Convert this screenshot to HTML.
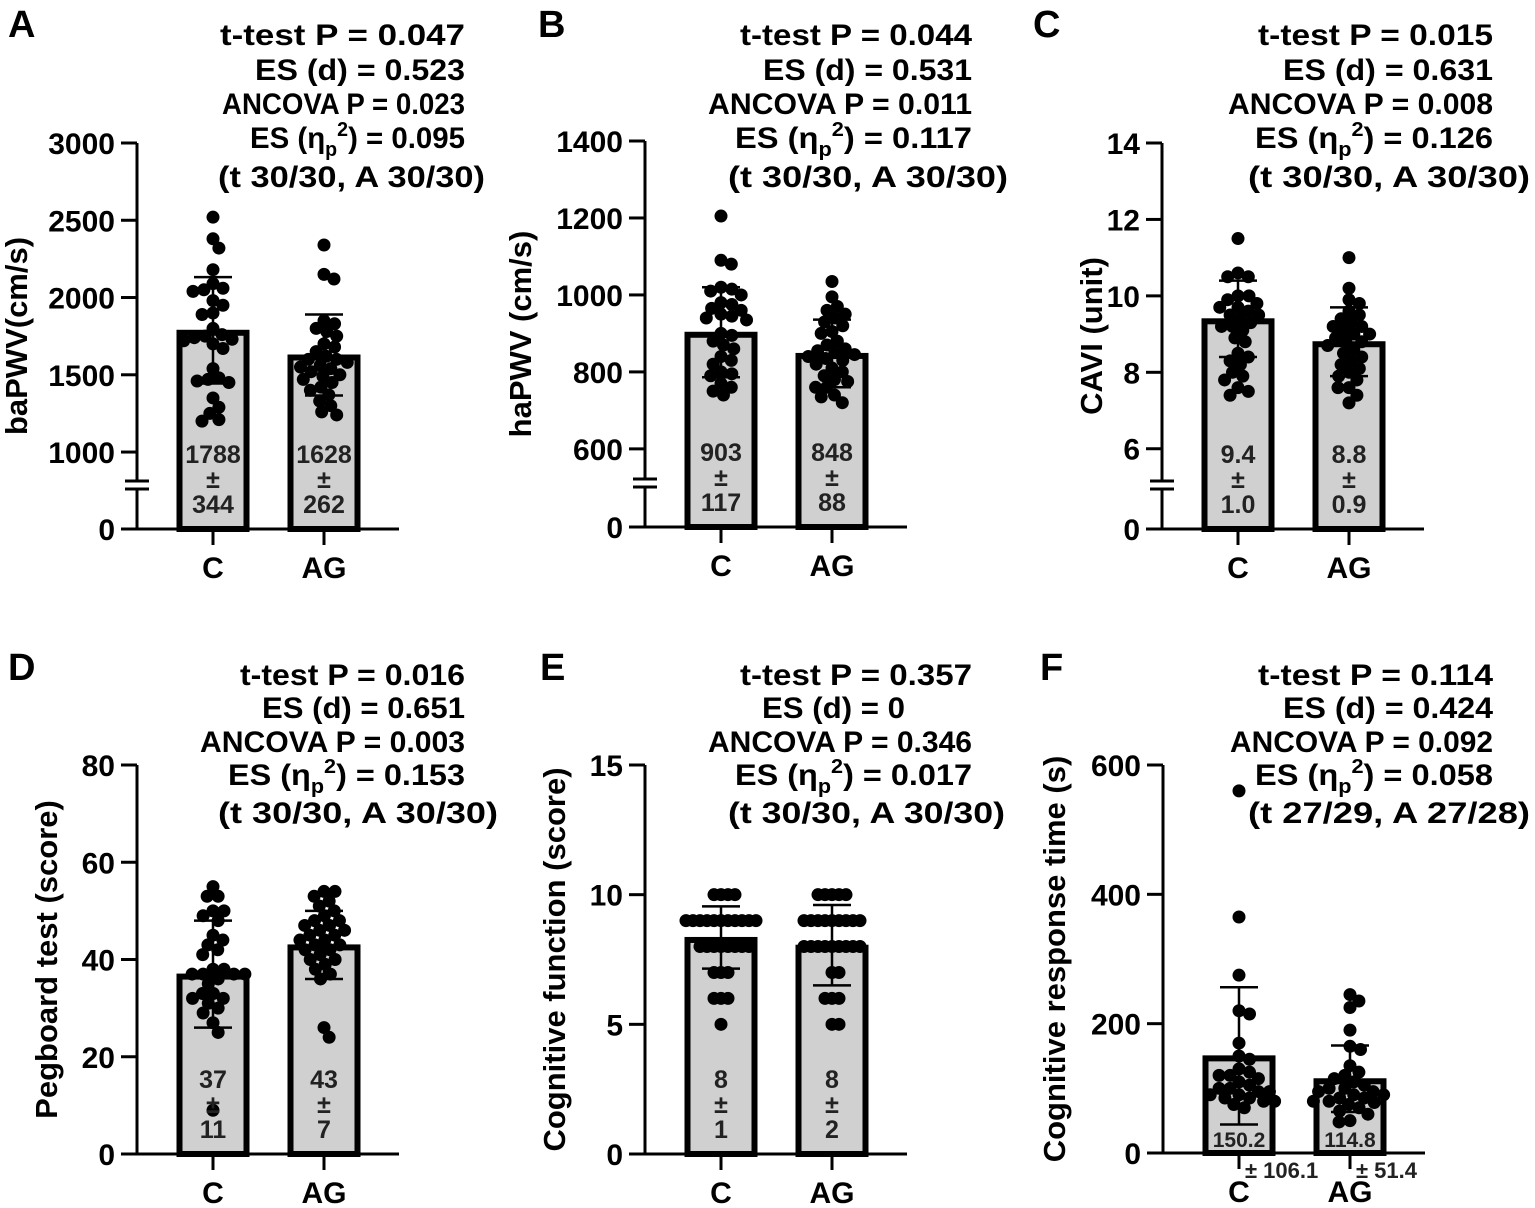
<!DOCTYPE html>
<html><head><meta charset="utf-8"><style>
body{margin:0;background:#fff}
svg{display:block}
text{font-family:"Liberation Sans",Arial,sans-serif;font-weight:bold;fill:#000}
</style></head><body>
<svg id="fig" width="1535" height="1208" viewBox="0 0 1535 1208"></svg>
<script>
// ---------- DATA ----------
const categories = ["C", "AG"];
const aC = [2520,2380,2320,2180,2090,2060,2050,2040,1980,1950,1900,1890,1800,1760,1750,1740,1730,1720,1700,1670,1540,1480,1470,1460,1450,1350,1290,1250,1200,1210];
const aAG = [2340,2150,2120,1850,1830,1800,1780,1750,1700,1680,1650,1620,1600,1600,1580,1560,1550,1540,1520,1500,1490,1470,1450,1420,1400,1370,1330,1300,1260,1240];
const bC = [1205,1090,1080,1020,1015,1010,1000,980,975,965,960,950,945,940,935,900,895,880,870,860,840,830,820,800,795,790,770,760,750,740];
const bAG = [1035,995,970,960,950,940,930,920,905,900,880,870,860,855,850,845,840,835,830,820,810,800,790,780,775,760,760,740,735,720];
const cC = [11.5,10.6,10.5,10.5,10.0,10.0,9.9,9.8,9.7,9.7,9.6,9.5,9.5,9.4,9.3,9.2,9.2,9.1,8.9,8.8,8.5,8.4,8.3,8.2,8.0,7.9,7.8,7.6,7.4,7.5];
const cAG = [11.0,10.2,9.9,9.8,9.6,9.5,9.4,9.3,9.2,9.2,9.1,9.0,9.0,8.9,8.8,8.8,8.7,8.6,8.5,8.4,8.3,8.2,8.1,8.0,7.9,7.8,7.6,7.4,7.2,7.6];
const dC = [55,53,53,50,50,49,48,45,44,43,42,41,38,38,37,37,37,37,36,35,33,33,32,32,31,30,29,27,25,9];
const dAG = [54,54,53,52,51,50,49,48,48,47,47,46,46,45,45,44,44,43,43,42,42,41,40,40,39,38,37,36,26,24];
const eC = [10,10,10,10,9,9,9,9,9,9,9,9,9,9,9,8,8,8,8,8,8,8,8,7,7,7,6,6,6,5];
const eAG = [10,10,10,10,10,9,9,9,9,9,9,9,9,9,8,8,8,8,8,8,8,8,8,7,7,6,6,6,5,5];
const fC = [560,365,275,220,215,170,150,145,130,125,120,120,115,110,105,100,100,95,95,90,90,85,85,80,80,75,70];
const fAG = [245,235,225,190,165,160,135,125,120,115,110,105,100,100,95,95,90,90,85,85,80,80,78,75,70,65,60,50,48];
const means = {A:[1788,1628],B:[903,848],C:[9.4,8.8],D:[37,43],E:[8.35,8.05],F:[150.2,114.8]};
const sds = {A:[344,262],B:[117,88],C:[1.0,0.9],D:[11,7],E:[1.2,1.55],F:[106.1,51.4]};
const meanLabels = {A:["1788","1628"],B:["903","848"],C:["9.4","8.8"],D:["37","43"],E:["8","8"],F:["150.2","114.8"]};
const sdLabels = {A:["344","262"],B:["117","88"],C:["1.0","0.9"],D:["11","7"],E:["1","2"],F:["106.1","51.4"]};
const yTicks = {A:[0,1000,1500,2000,2500,3000],B:[0,600,800,1000,1200,1400],C:[0,6,8,10,12,14],D:[0,20,40,60,80],E:[0,5,10,15],F:[0,200,400,600]};
const statLines = {
 A:["t-test P = 0.047","ES (d) = 0.523","ANCOVA P = 0.023","0.095","(t 30/30, A 30/30)"],
 B:["t-test P = 0.044","ES (d) = 0.531","ANCOVA P = 0.011","0.117","(t 30/30, A 30/30)"],
 C:["t-test P = 0.015","ES (d) = 0.631","ANCOVA P = 0.008","0.126","(t 30/30, A 30/30)"],
 D:["t-test P = 0.016","ES (d) = 0.651","ANCOVA P = 0.003","0.153","(t 30/30, A 30/30)"],
 E:["t-test P = 0.357","ES (d) = 0","ANCOVA P = 0.346","0.017","(t 30/30, A 30/30)"],
 F:["t-test P = 0.114","ES (d) = 0.424","ANCOVA P = 0.092","0.058","(t 27/29, A 27/28)"]};
const yTitles = {A:"baPWV(cm/s)",B:"haPWV (cm/s)",C:"CAVI (unit)",D:"Pegboard test (score)",E:"Cognitive function (score)",F:"Cognitive response time (s)"};

// ---------- LAYOUT ----------
const panels = [
 {id:"A",ax:137,top:143,base:529,lo:502,hi:3000,brk:true,data:[aC,aAG],lx:8,ly:37,tx:16,
  st:[[220,465],[255,465],[222,465],[250,465],[218,485]],sy:[45,80,114,148,187],pack:11},
 {id:"B",ax:645,top:141,base:527,lo:397,hi:1400,brk:true,data:[bC,bAG],lx:538,ly:37,tx:520,
  st:[[740,972],[763,972],[708,972],[735,972],[728,1008]],sy:[45,80,114,148,187],pack:11},
 {id:"C",ax:1162,top:143,base:529,lo:3.9,hi:14,brk:true,data:[cC,cAG],lx:1033,ly:37,tx:1091,
  st:[[1258,1493],[1283,1493],[1228,1493],[1255,1493],[1248,1530]],sy:[45,80,114,148,187],pack:11},
 {id:"D",ax:137,top:765,base:1154,lo:0,hi:80,brk:false,data:[dC,dAG],lx:8,ly:680,tx:46,
  st:[[240,465],[262,465],[200,465],[228,465],[218,498]],sy:[685,718,752,785,823],pack:11},
 {id:"E",ax:645,top:765,base:1154,lo:0,hi:15,brk:false,data:[eC,eAG],lx:540,ly:680,tx:554,
  st:[[740,972],[762,905],[708,972],[735,972],[728,1005]],sy:[685,718,752,785,823],pack:7},
 {id:"F",ax:1163,top:765,base:1153,lo:0,hi:600,brk:false,data:[fC,fAG],lx:1040,ly:680,tx:1054,
  st:[[1258,1493],[1283,1493],[1230,1493],[1255,1493],[1248,1530]],sy:[685,718,752,785,823],pack:11}
];
const NS="http://www.w3.org/2000/svg";
const svg=document.getElementById("fig");
function el(tag,attrs,parent){const e=document.createElementNS(NS,tag);for(const k in attrs)e.setAttribute(k,attrs[k]);(parent||svg).appendChild(e);return e;}

function swarm(vals,yf,r,dist){
  const pts=vals.map(v=>({v,y:yf(v)})).sort((a,b)=>a.y-b.y);const placed=[];
  pts.forEach(p=>{
    const near=placed.filter(q=>Math.abs(q.y-p.y)<dist);
    const cands=[0];
    near.forEach(q=>{const w=Math.sqrt(dist*dist-(q.y-p.y)**2);cands.push(q.dx+w,q.dx-w);});
    cands.sort((a,b)=>Math.abs(a)-Math.abs(b));
    for(const c of cands){if(near.every(q=>Math.hypot(q.dx-c,q.y-p.y)>=dist-0.01)){p.dx=c;break;}}
    placed.push(p);});
  return placed;
}

panels.forEach(P=>{
  const g=el("g",{});
  
  
  const y=v=>{if(v<=0&&P.brk)return P.base;return P.base-(v-P.lo)/(P.hi-P.lo)*(P.base-P.top);};
  const xc=i=>P.ax+76+i*111;
  const bw=72;
  const L=el("text",{x:P.lx,y:P.ly,"font-size":38},g);L.textContent=P.id;
  
  
  categories.forEach((c,i)=>{
    const m=means[P.id][i];
    const b=el("rect",{x:xc(i)-bw/2+2.5,y:y(m)+2.5,width:bw-5,height:P.base-y(m)-2.5,fill:"#d0d0d0",stroke:"#000","stroke-width":6},g);
    
    
  });
  categories.forEach((c,i)=>{
    const pts=swarm(P.data[i],y,6.5,P.pack);
    pts.forEach(p=>{
      const d=el("circle",{cx:xc(i)+p.dx,cy:p.y,r:6.5,fill:"#000"},g);
      
      
    });
  });
  categories.forEach((c,i)=>{
    const m=means[P.id][i],s=sds[P.id][i];
    const eg=el("g",{stroke:"#000","stroke-width":2.5},g);
    
    
    el("line",{x1:xc(i),x2:xc(i),y1:y(m-s),y2:y(m+s)},eg);
    el("line",{x1:xc(i)-19,x2:xc(i)+19,y1:y(m+s),y2:y(m+s)},eg);
    el("line",{x1:xc(i)-19,x2:xc(i)+19,y1:y(m-s),y2:y(m-s)},eg);
  });
  categories.forEach((c,i)=>{
    const lg=el("g",{},g);
    
    
    if(P.id==="F"){
      const t1=el("text",{x:xc(i),y:P.base-6,"font-size":21,"text-anchor":"middle",style:"fill:#222"},lg);t1.textContent=meanLabels.F[i];
      const t2=el("text",{x:xc(i)+6,y:P.base+25,"font-size":22,style:"fill:#222"},lg);t2.textContent="± "+sdLabels.F[i];
    }else{
      const b=P.base;
      [[meanLabels[P.id][i],b-66],["±",b-41],[sdLabels[P.id][i],b-16]].forEach(([s,yy])=>{
        const t=el("text",{x:xc(i),y:yy,"font-size":25,"text-anchor":"middle",style:"fill:#222"},lg);t.textContent=s;});
    }
  });
  const ag=el("g",{stroke:"#000","stroke-width":3,fill:"none"},g);
  
  
  if(P.brk){
    const b1=P.base-40,b2=P.base-48;
    el("line",{x1:P.ax,x2:P.ax,y1:P.top,y2:b2},ag);
    el("line",{x1:P.ax,x2:P.ax,y1:b1,y2:P.base},ag);
    el("line",{x1:P.ax-12,x2:P.ax+12,y1:b2,y2:b2},ag);
    el("line",{x1:P.ax-12,x2:P.ax+12,y1:b1,y2:b1},ag);
  }else el("line",{x1:P.ax,x2:P.ax,y1:P.top,y2:P.base},ag);
  yTicks[P.id].forEach(v=>{
    el("line",{x1:P.ax-16,x2:P.ax,y1:y(v),y2:y(v)},ag);
    const t=el("text",{x:P.ax-22,y:y(v)+11,"font-size":30,"text-anchor":"end"},g);t.textContent=v;
    
    
  });
  const cy=(P.top+P.base)/2;
  const yt=el("text",{x:P.tx,y:cy,"font-size":31,"text-anchor":"middle",transform:`rotate(-90 ${P.tx} ${cy})`,dy:11},g);
  yt.textContent=yTitles[P.id];
  
  
  const xg=el("g",{stroke:"#000","stroke-width":3},g);
  
  
  el("line",{x1:P.ax-1,x2:P.ax+262,y1:P.base,y2:P.base},xg);
  categories.forEach((c,i)=>{
    el("line",{x1:xc(i),x2:xc(i),y1:P.base,y2:P.base+16},xg);
    const t=el("text",{x:xc(i),y:P.base+49,"font-size":30,"text-anchor":"middle"},g);t.textContent=c;
    
    
  });
  const sg=el("g",{},g);
  
  
  statLines[P.id].forEach((s,k)=>{
    const [x0,x1]=P.st[k];
    const t=el("text",{x:x0,y:P.sy[k],"font-size":30,textLength:x1-x0,lengthAdjust:"spacingAndGlyphs"},sg);
    if(k===3){
      t.appendChild(document.createTextNode("ES (η"));
      const sub=el("tspan",{"font-size":20,dy:8},t);sub.textContent="p";
      const sup=el("tspan",{"font-size":20,dy:-20},t);sup.textContent="2";
      const rest=el("tspan",{dy:12},t);rest.textContent=") = "+s;
    }else t.textContent=s;
  });
});
</script>
</body></html>
